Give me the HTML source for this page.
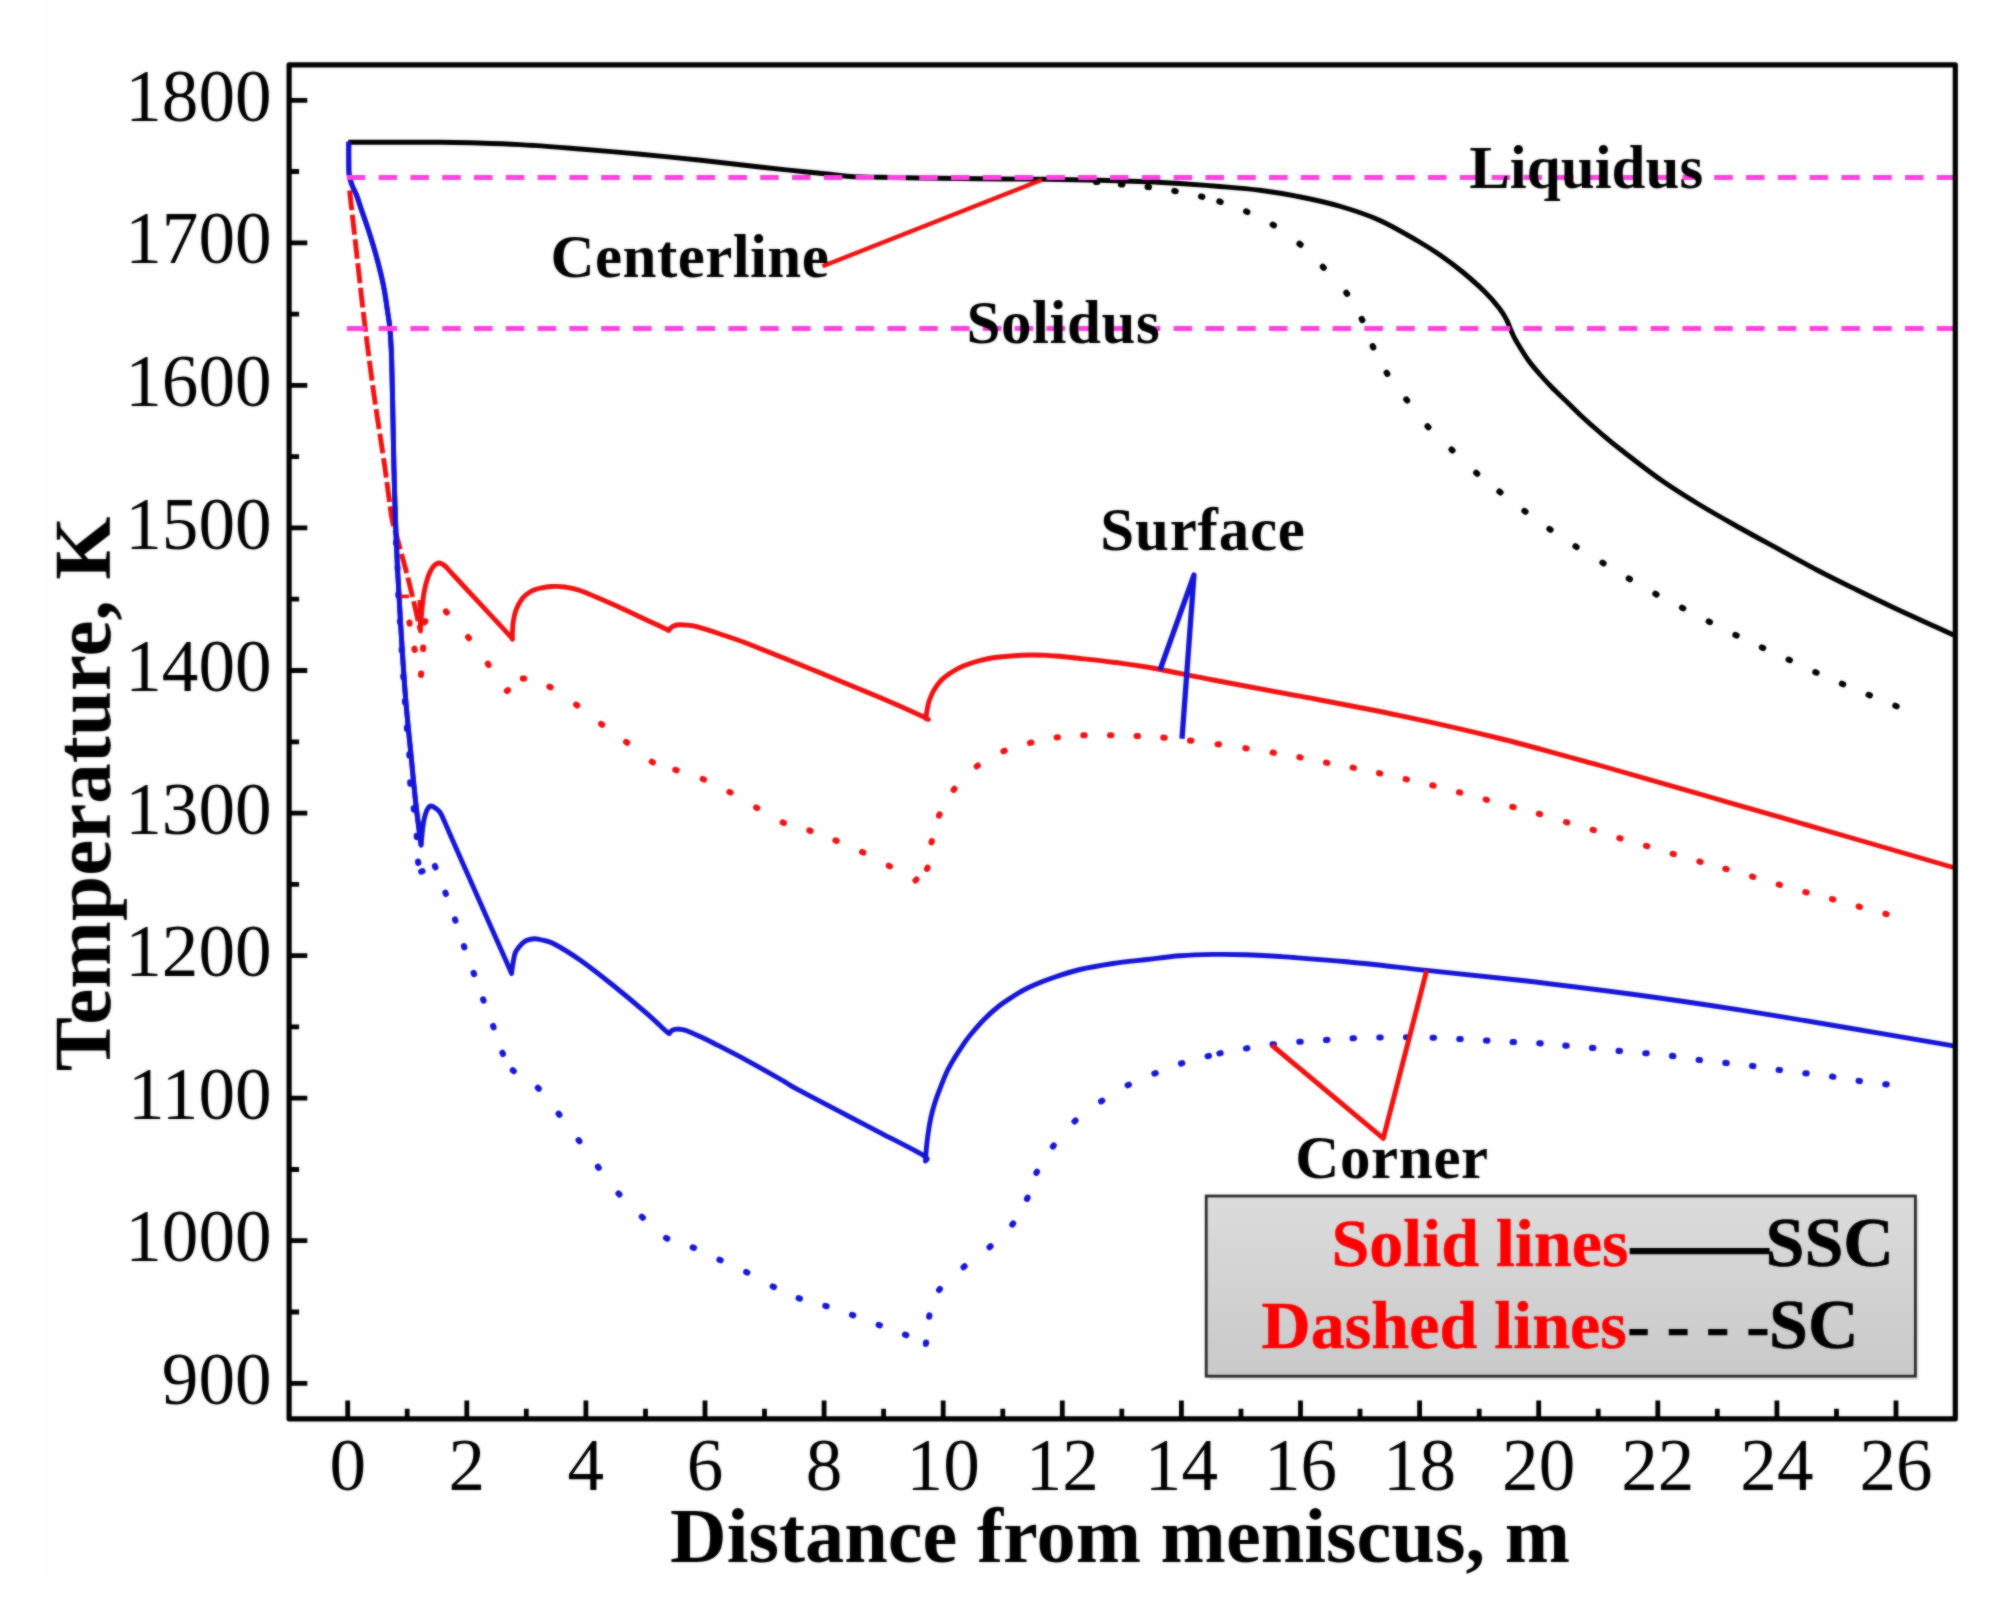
<!DOCTYPE html>
<html lang="en"><head><meta charset="utf-8"><title>Temperature vs distance from meniscus</title>
<style>
html,body{margin:0;padding:0;background:#fff;}
body{width:1990px;height:1619px;overflow:hidden;}
svg{display:block;}
text{font-family:"Liberation Serif",serif;}
.tk{font-size:75px;fill:#000;}
.b{font-weight:bold;}
.lb{font-weight:bold;font-size:61px;fill:#000;}
.cv{fill:none;stroke-width:4.9;stroke-linejoin:round;stroke-linecap:butt;}
</style></head><body>
<svg width="1990" height="1619" viewBox="0 0 1990 1619">
<defs><linearGradient id="lg" x1="0" y1="0" x2="0" y2="1"><stop offset="0" stop-color="#dcdcdc"/><stop offset="1" stop-color="#c9c9c9"/></linearGradient>
<filter id="bl" x="-2%" y="-2%" width="104%" height="104%" color-interpolation-filters="sRGB"><feGaussianBlur stdDeviation="0.9" result="b"/><feComposite in="SourceGraphic" in2="b" operator="arithmetic" k1="0" k2="0.45" k3="0.55" k4="0"/></filter>
</defs>
<rect width="1990" height="1619" fill="#fff"/>
<rect x="42" y="0" width="1948" height="1578" fill="#fefefe"/>
<g filter="url(#bl)">
<path d="M1096.0 181.9l1.39 0.14M1121.0 184.4l1.39 0.14M1147.6 186.9l1.39 0.17M1174.3 190.9l1.38 0.25M1201.0 196.5l1.36 0.32M1219.3 201.5l1.33 0.44M1246.1 211.4l1.28 0.56M1272.7 224.6l1.19 0.73M1299.5 243.8l1.07 0.90M1322.8 266.8l0.97 1.01M1346.3 292.7l0.83 1.12M1361.7 318.9l0.62 1.26M1372.7 346.1l0.59 1.27M1386.6 372.7l0.75 1.18M1406.3 399.4l0.85 1.11M1427.5 426.2l0.94 1.04M1451.5 449.5l1.01 0.97M1476.2 472.8l1.05 0.92M1499.4 491.6l1.10 0.87M1524.4 510.9l1.12 0.84M1549.4 528.9l1.15 0.80M1575.4 546.3l1.18 0.75M1602.4 562.6l1.20 0.72M1628.7 578.5l1.21 0.71M1655.3 593.8l1.23 0.67M1682.0 607.7l1.24 0.64M1708.7 621.5l1.25 0.64M1735.4 634.9l1.26 0.61M1761.9 647.4l1.27 0.59M1788.6 659.6l1.27 0.59M1815.3 672.1l1.28 0.58M1841.9 683.7l1.29 0.55M1868.6 694.8l1.29 0.53M1895.3 705.7l1.30 0.53" stroke="#000" stroke-width="6.1" stroke-linecap="round" fill="none"/>
<path d="M409.4 622.4l0.27 1.37M414.4 648.6l0.31 1.37M421.0 674.9l0.11 -1.40M423.1 649.0l0.10 -1.40M424.6 622.3l0.75 -1.18M445.9 611.4l0.91 1.06M468.1 637.1l0.87 1.10M487.8 663.8l0.83 1.13M506.9 691.0l1.12 -0.84M522.8 678.6l1.40 -0.12M549.4 686.7l1.25 0.62M576.1 704.6l1.14 0.82M601.1 723.9l1.12 0.84M626.1 741.9l1.12 0.84M651.7 761.7l1.22 0.69M675.3 769.8l1.33 0.45M702.7 779.0l1.29 0.53M729.4 792.0l1.24 0.66M756.1 807.4l1.22 0.69M782.7 822.4l1.29 0.55M809.3 830.5l1.32 0.45M835.4 840.4l1.30 0.53M862.1 852.0l1.26 0.60M888.7 865.7l1.24 0.65M915.5 880.5l0.97 -1.01M927.0 868.9l0.53 -1.30M931.5 842.4l0.31 -1.37M939.0 815.6l0.55 -1.29M953.6 789.9l0.86 -1.11M976.7 766.4l1.11 -0.85M1003.4 751.3l1.28 -0.56M1030.0 742.9l1.36 -0.35M1056.6 737.4l1.39 -0.19M1083.3 735.3l1.40 -0.05M1110.0 735.3l1.40 0.02M1136.6 736.0l1.40 0.06M1163.3 737.6l1.39 0.12M1190.0 740.6l1.39 0.17M1217.6 744.2l1.39 0.19M1245.3 748.2l1.38 0.21M1272.6 752.6l1.38 0.23M1299.3 757.2l1.38 0.26M1326.0 762.6l1.37 0.27M1352.6 767.6l1.37 0.27M1379.0 773.2l1.37 0.30M1405.6 779.1l1.36 0.31M1432.3 785.3l1.36 0.34M1459.0 792.3l1.35 0.36M1485.6 799.5l1.35 0.37M1512.3 806.8l1.35 0.36M1538.8 813.8l1.35 0.38M1566.0 822.1l1.34 0.40M1592.6 829.8l1.34 0.40M1619.3 838.1l1.34 0.40M1646.0 845.8l1.34 0.40M1672.6 853.8l1.34 0.40M1699.3 861.5l1.35 0.38M1725.3 868.8l1.35 0.38M1752.0 876.5l1.34 0.40M1778.6 884.5l1.34 0.39M1805.3 892.1l1.35 0.37M1832.0 899.1l1.35 0.37M1858.6 906.5l1.35 0.37M1885.3 913.8l1.35 0.37" stroke="#f01010" stroke-width="6.1" stroke-linecap="round" fill="none"/>
<path d="M396.0 542.3l0.08 1.40M397.5 567.3l0.06 1.40M398.3 594.3l0.07 1.40M400.0 621.0l0.09 1.40M401.7 649.3l0.08 1.40M403.3 676.0l0.09 1.40M404.9 701.0l0.10 1.40M406.9 727.6l0.11 1.40M409.3 754.3l0.08 1.40M410.2 782.3l0.12 1.40M413.7 808.2l0.17 1.39M416.7 835.7l0.11 1.40M418.1 861.6l0.20 1.39M421.2 871.7l1.32 -0.48M434.9 866.0l0.51 1.30M445.4 892.7l0.49 1.31M455.0 919.4l0.46 1.32M463.9 946.1l0.46 1.32M473.6 972.8l0.48 1.32M483.1 999.3l0.48 1.31M493.1 1026.0l0.48 1.32M502.4 1052.7l0.58 1.27M512.8 1070.2l1.00 0.98M537.8 1087.8l1.01 0.97M558.6 1113.7l0.86 1.11M578.6 1140.1l0.83 1.12M597.9 1166.7l0.84 1.12M618.5 1193.5l0.92 1.05M641.8 1216.8l1.03 0.95M666.1 1237.9l1.20 0.72M692.7 1247.4l1.30 0.53M719.4 1259.7l1.27 0.59M746.1 1272.0l1.25 0.63M772.7 1286.4l1.26 0.62M798.6 1298.1l1.31 0.48M825.3 1305.8l1.34 0.42M852.0 1314.8l1.32 0.47M878.6 1324.8l1.31 0.49M905.0 1334.7l1.30 0.51M925.9 1344.0l0.17 -1.39M929.1 1316.7l0.34 -1.36M939.1 1290.1l0.81 -1.14M963.5 1267.2l1.07 -0.91M989.5 1247.2l1.05 -0.92M1012.3 1224.6l0.85 -1.11M1027.0 1198.9l0.59 -1.27M1036.4 1172.9l0.62 -1.25M1052.9 1146.6l0.84 -1.12M1074.5 1121.5l1.03 -0.95M1101.1 1101.4l1.16 -0.78M1127.7 1085.3l1.24 -0.65M1154.4 1073.6l1.30 -0.53M1181.0 1063.5l1.33 -0.43M1207.6 1056.2l1.35 -0.35M1219.3 1053.4l1.37 -0.28M1246.0 1048.4l1.38 -0.23M1272.6 1044.4l1.39 -0.17M1299.3 1041.8l1.40 -0.11M1326.0 1040.0l1.40 -0.09M1352.6 1038.3l1.40 -0.07M1379.3 1037.5l1.40 -0.03M1406.0 1037.3l1.40 0.01M1432.6 1037.7l1.40 0.04M1459.3 1039.0l1.40 0.07M1486.0 1040.5l1.40 0.08M1512.6 1042.0l1.40 0.07M1539.3 1043.3l1.40 0.10M1565.3 1045.6l1.39 0.12M1592.0 1047.9l1.39 0.14M1618.6 1050.9l1.39 0.14M1645.3 1053.2l1.39 0.13M1672.0 1055.9l1.39 0.17M1698.6 1059.9l1.39 0.18M1725.3 1062.9l1.39 0.16M1752.0 1065.9l1.39 0.18M1778.6 1069.9l1.39 0.19M1805.3 1073.2l1.39 0.17M1832.0 1076.6l1.39 0.20M1858.6 1080.9l1.39 0.20M1885.3 1084.2l1.39 0.17" stroke="#1414d6" stroke-width="6.1" stroke-linecap="round" fill="none"/>
<path class="cv" stroke="#f01010" stroke-width="4.8" d="M420.0 600.0C420.1 605.2 420.4 625.8 420.5 631.0C420.7 628.3 420.9 621.4 421.5 615.0C422.1 608.6 422.9 598.9 424.0 592.6C425.1 586.3 426.5 581.3 428.0 577.0C429.5 572.7 431.2 569.3 433.0 567.0C434.8 564.7 437.0 563.2 439.0 563.0C441.0 562.8 442.8 564.2 445.0 566.0C447.2 567.8 446.2 567.2 452.0 573.5C457.8 579.8 472.0 595.1 480.0 603.7C488.0 612.3 494.8 619.6 500.0 625.2C505.2 630.9 509.4 635.3 511.5 637.6C513.5 639.9 512.2 638.9 512.3 639.2C512.4 636.5 512.5 627.9 513.1 623.0C513.7 618.1 514.4 614.2 516.0 610.0C517.6 605.8 520.4 601.0 522.7 598.0C525.0 595.0 527.3 593.6 530.0 592.0C532.7 590.4 535.3 589.4 538.8 588.5C542.3 587.6 546.6 586.8 551.0 586.5C555.4 586.2 560.2 586.3 565.0 587.0C569.8 587.7 572.0 587.6 580.0 590.5C588.0 593.4 602.2 599.6 613.3 604.5C624.4 609.4 637.8 615.9 646.7 620.0C655.6 624.1 663.1 627.5 666.7 629.3C670.3 631.0 668.0 630.3 668.3 630.5C668.9 629.9 670.6 627.9 672.0 627.0C673.4 626.1 674.5 625.3 676.7 625.0C678.9 624.7 681.7 624.7 685.0 625.0C688.3 625.3 690.9 625.2 696.7 626.7C702.5 628.2 711.7 631.2 720.0 634.0C728.3 636.8 731.2 637.3 746.7 643.3C762.2 649.3 791.1 661.0 813.3 670.0C835.5 679.0 861.4 689.7 880.0 697.6C898.6 705.5 917.4 714.0 925.0 717.5C932.6 721.0 925.6 718.3 925.7 718.5C926.0 716.8 926.9 711.1 927.5 708.0C928.1 704.9 928.4 703.0 929.5 700.0C930.6 697.0 932.0 693.3 934.0 690.0C936.0 686.7 938.5 683.0 941.5 680.0C944.5 677.0 948.4 674.3 952.0 672.0C955.6 669.7 958.6 667.9 963.3 666.0C968.0 664.1 974.4 662.0 980.0 660.5C985.6 659.0 988.4 658.2 996.7 657.3C1005.0 656.4 1020.3 655.2 1030.0 655.0C1039.7 654.8 1046.7 655.4 1055.0 656.0C1063.3 656.6 1070.0 657.4 1080.0 658.5C1090.0 659.6 1103.9 661.1 1115.0 662.5C1126.1 663.9 1130.3 664.1 1146.7 667.0C1163.1 669.9 1187.8 675.1 1213.3 680.0C1238.8 684.9 1268.9 690.3 1300.0 696.2C1331.1 702.1 1366.7 708.6 1400.0 715.6C1433.3 722.6 1466.7 730.2 1500.0 738.5C1533.3 746.8 1570.0 757.2 1600.0 765.5C1630.0 773.8 1658.3 782.1 1680.0 788.3C1701.7 794.5 1713.3 798.0 1730.0 802.8C1746.7 807.6 1758.8 811.1 1780.0 817.2C1801.2 823.3 1828.1 831.1 1857.0 839.5C1885.9 847.9 1937.2 862.8 1953.3 867.5"/>
<path class="cv" stroke="#f01010" stroke-width="5.6" stroke-dasharray="20 4.5" d="M349.6 190.4C350.7 200.3 353.9 228.7 356.3 250.0C358.7 271.3 361.1 294.3 364.0 318.0C366.9 341.7 370.2 367.3 373.6 392.0C377.1 416.7 381.7 445.2 384.7 466.0C387.7 486.8 389.7 505.3 391.7 517.0C393.7 528.7 394.4 527.8 396.7 536.4C399.0 545.0 402.7 557.8 405.5 568.5C408.3 579.2 411.1 590.4 413.5 600.6C415.9 610.8 418.9 624.7 420.0 629.5"/>
<path class="cv" stroke="#000" stroke-width="4.4" d="M348.3 142.2C356.9 142.2 384.7 142.2 400.0 142.2C415.3 142.2 428.3 142.1 440.0 142.2C451.7 142.3 456.7 142.4 470.0 142.8C483.3 143.2 501.7 143.6 520.0 144.6C538.3 145.6 559.8 147.4 580.0 149.0C600.2 150.6 620.8 152.4 641.0 154.3C661.2 156.2 680.8 158.2 701.0 160.3C721.2 162.5 745.2 165.3 762.0 167.2C778.8 169.1 790.7 170.3 802.0 171.5C813.3 172.7 822.0 173.5 830.0 174.3C838.0 175.1 841.7 176.0 850.0 176.5C858.3 177.0 865.0 177.0 880.0 177.3C895.0 177.6 920.0 178.0 940.0 178.3C960.0 178.6 982.2 178.8 1000.0 179.0C1017.8 179.2 1030.0 179.1 1046.7 179.3C1063.4 179.5 1083.3 179.9 1100.0 180.3C1116.7 180.7 1133.4 181.2 1146.7 181.7C1160.0 182.2 1167.8 182.7 1180.0 183.5C1192.2 184.3 1206.7 185.4 1220.0 186.5C1233.3 187.6 1246.6 188.6 1260.0 190.3C1273.4 192.1 1287.1 194.3 1300.6 197.0C1314.1 199.7 1327.6 202.6 1340.8 206.5C1354.0 210.4 1367.3 214.7 1380.0 220.4C1392.7 226.1 1407.0 234.7 1417.0 240.5C1427.0 246.3 1432.5 249.8 1440.0 255.0C1447.5 260.2 1454.6 265.4 1462.0 271.5C1469.4 277.6 1478.3 285.4 1484.5 291.5C1490.7 297.6 1495.6 303.4 1499.3 308.2C1503.0 312.9 1504.9 316.6 1506.7 320.0C1508.5 323.4 1509.0 325.6 1510.2 328.4C1511.4 331.2 1512.7 334.4 1514.0 337.0C1515.3 339.6 1515.4 339.9 1517.8 343.8C1520.2 347.7 1524.8 355.4 1528.5 360.5C1532.2 365.6 1536.1 370.0 1540.0 374.5C1543.9 379.0 1547.8 383.2 1552.0 387.5C1556.2 391.8 1560.3 395.5 1565.0 400.0C1569.7 404.5 1574.2 409.3 1580.0 414.7C1585.8 420.1 1593.3 426.8 1600.0 432.5C1606.7 438.2 1609.8 441.1 1620.0 449.0C1630.2 456.9 1647.7 470.7 1661.0 480.0C1674.3 489.3 1686.8 497.0 1700.0 505.0C1713.2 513.0 1726.7 520.5 1740.0 528.0C1753.3 535.5 1767.0 542.8 1780.0 549.9C1793.0 557.0 1805.2 563.8 1818.0 570.5C1830.8 577.2 1844.0 583.6 1857.0 590.0C1870.0 596.4 1883.0 602.6 1896.0 608.7C1909.0 614.8 1925.4 622.1 1935.0 626.5C1944.6 630.9 1950.4 633.6 1953.5 635.0"/>
<path class="cv" stroke="#1414d6" d="M348.8 141.7C348.8 144.8 348.7 154.4 348.8 160.0C348.9 165.6 348.7 170.8 349.2 175.0C349.7 179.2 350.8 181.7 352.0 185.0C353.2 188.3 355.0 191.2 356.5 195.0C358.0 198.8 358.8 202.0 360.8 207.9C362.8 213.8 365.8 222.0 368.5 230.3C371.2 238.7 374.3 248.8 376.8 258.0C379.3 267.2 381.7 276.8 383.5 285.7C385.3 294.6 386.6 304.8 387.6 311.7C388.7 318.6 389.2 321.0 389.8 327.4C390.4 333.8 390.9 342.3 391.3 350.0C391.7 357.7 391.7 362.0 392.0 373.7C392.3 385.4 392.7 404.6 393.0 420.0C393.3 435.4 393.5 449.6 393.9 466.3C394.3 483.0 394.9 503.0 395.5 520.0C396.1 537.0 396.6 550.2 397.5 568.5C398.4 586.8 399.7 608.6 401.0 630.0C402.3 651.4 403.8 675.3 405.5 697.0C407.2 718.7 409.8 742.0 411.5 760.0C413.2 778.0 414.4 790.8 416.0 805.0C417.6 819.2 420.2 838.5 421.1 845.2C421.3 842.7 422.0 834.3 422.5 830.0C423.0 825.7 423.4 822.6 424.1 819.3C424.9 816.0 425.9 812.2 427.0 810.0C428.1 807.8 429.3 806.2 430.8 806.0C432.3 805.8 434.3 807.2 436.0 808.5C437.7 809.8 438.7 809.7 441.0 814.0C443.3 818.3 445.2 823.4 450.0 834.3C454.8 845.2 463.3 864.4 470.0 879.5C476.7 894.6 484.2 911.5 490.0 924.7C495.8 937.9 501.4 950.5 505.0 958.6C508.6 966.7 510.5 971.0 511.6 973.5C511.8 972.1 512.1 968.3 512.7 965.0C513.3 961.7 514.0 956.5 515.0 953.5C516.0 950.5 517.5 948.9 519.0 947.0C520.5 945.1 522.3 943.2 524.0 942.0C525.7 940.8 527.2 940.2 529.0 939.7C530.8 939.2 532.8 938.7 535.0 938.7C537.2 938.8 539.0 939.2 542.0 940.0C545.0 940.8 547.0 940.2 553.3 943.5C559.6 946.8 570.0 953.0 580.0 960.0C590.0 967.0 602.2 976.6 613.3 985.5C624.4 994.4 637.8 1005.6 646.7 1013.3C655.6 1021.0 662.9 1028.4 666.7 1031.7C670.5 1035.0 668.9 1033.0 669.3 1033.3C669.8 1032.8 671.0 1031.2 672.0 1030.5C673.0 1029.8 673.7 1029.5 675.0 1029.3C676.3 1029.1 678.0 1029.1 680.0 1029.3C682.0 1029.5 683.4 1029.5 686.7 1030.7C690.0 1031.9 695.6 1034.5 700.0 1036.5C704.4 1038.5 705.5 1039.0 713.3 1043.0C721.1 1047.0 735.6 1054.3 746.7 1060.3C757.8 1066.3 771.5 1074.1 780.0 1079.0C788.5 1083.9 786.9 1083.7 798.0 1089.7C809.1 1095.7 833.0 1108.1 846.7 1115.2C860.4 1122.3 867.2 1125.9 880.0 1132.6C892.8 1139.3 915.7 1150.6 923.3 1155.3C930.9 1160.0 925.1 1160.0 925.5 1161.0C925.7 1158.7 926.0 1152.0 926.5 1147.0C927.0 1142.0 927.8 1136.0 928.5 1131.0C929.2 1126.0 930.0 1121.5 931.0 1117.0C932.0 1112.5 933.0 1108.8 934.5 1104.0C936.0 1099.2 937.9 1093.9 940.0 1088.5C942.1 1083.1 944.6 1076.6 947.0 1071.5C949.4 1066.4 952.0 1062.2 954.5 1058.0C957.0 1053.8 959.5 1050.2 962.0 1046.5C964.5 1042.8 965.8 1040.5 969.5 1036.0C973.2 1031.5 979.1 1024.5 984.0 1019.5C988.9 1014.5 994.2 1009.8 999.0 1006.0C1003.8 1002.2 1008.1 999.6 1013.0 996.5C1017.9 993.4 1021.6 990.8 1028.6 987.5C1035.6 984.2 1046.4 980.0 1055.0 977.0C1063.6 974.0 1070.3 971.8 1080.0 969.5C1089.7 967.2 1101.9 965.2 1113.0 963.5C1124.1 961.8 1135.5 960.8 1146.7 959.5C1157.9 958.2 1168.9 956.6 1180.0 955.8C1191.1 954.9 1202.3 954.6 1213.3 954.4C1224.3 954.2 1234.9 954.4 1246.0 954.8C1257.1 955.1 1263.2 955.3 1280.0 956.5C1296.8 957.7 1322.2 959.5 1346.7 961.8C1371.2 964.1 1397.8 967.3 1426.7 970.4C1455.6 973.5 1486.0 976.4 1520.0 980.3C1554.0 984.2 1593.7 989.0 1630.5 994.0C1667.3 999.0 1704.2 1004.4 1741.0 1010.1C1777.8 1015.9 1816.2 1022.5 1851.6 1028.5C1887.0 1034.5 1936.5 1043.0 1953.5 1045.9"/>
<path class="cv" stroke="#1414d6" stroke-width="6.2" stroke-linecap="round" d="M348.8 141.7C348.8 144.8 348.7 154.4 348.8 160.0C348.9 165.6 348.7 170.8 349.2 175.0C349.7 179.2 350.8 181.7 352.0 185.0C353.2 188.3 355.0 191.2 356.5 195.0C358.0 198.8 358.8 202.0 360.8 207.9C362.8 213.8 365.8 222.0 368.5 230.3C371.2 238.7 374.3 248.8 376.8 258.0C379.3 267.2 381.7 276.8 383.5 285.7C385.3 294.6 386.6 304.8 387.6 311.7C388.7 318.6 389.2 321.0 389.8 327.4C390.4 333.8 390.9 342.3 391.3 350.0C391.7 357.7 391.7 362.0 392.0 373.7C392.3 385.4 392.7 404.6 393.0 420.0C393.3 435.4 393.5 449.6 393.9 466.3C394.3 483.0 394.9 503.0 395.5 520.0C396.1 537.0 396.6 550.2 397.5 568.5C398.4 586.8 399.7 608.6 401.0 630.0C402.3 651.4 403.8 675.3 405.5 697.0C407.2 718.7 409.8 742.0 411.5 760.0C413.2 778.0 414.4 790.8 416.0 805.0C417.6 819.2 420.2 838.5 421.1 845.2"/>
<path d="M346.8 177.5 H1953.0" stroke="#ff40e0" stroke-width="5" stroke-dasharray="18.6 13.2" fill="none"/>
<path d="M346.8 328.5 H1953.0" stroke="#ff40e0" stroke-width="5" stroke-dasharray="18.6 13.2" fill="none"/>
<path d="M400.6 596.4H409" stroke="#f01010" stroke-width="3.6" fill="none"/>
<path d="M822.5 266.3L1042.0 179.8" fill="none" stroke="#f01010" stroke-width="4.4" stroke-linejoin="round"/>
<path d="M1160.0 670.0L1194.0 575.0L1182.0 738.7" fill="none" stroke="#1414d6" stroke-width="5.3" stroke-linejoin="round"/>
<path d="M1271.7 1045.0L1383.3 1138.3L1426.7 970.4" fill="none" stroke="#f01010" stroke-width="5" stroke-linejoin="round"/>
<rect x="289.1" y="64.9" width="1666.2" height="1353.9" fill="none" stroke="#000" stroke-width="5.2" stroke-linejoin="round"/>
<path d="M347.7 1418.8 V1400.6M407.2 1418.8 V1408.8M466.8 1418.8 V1400.6M526.3 1418.8 V1408.8M585.9 1418.8 V1400.6M645.5 1418.8 V1408.8M705.0 1418.8 V1400.6M764.5 1418.8 V1408.8M824.1 1418.8 V1400.6M883.6 1418.8 V1408.8M943.2 1418.8 V1400.6M1002.8 1418.8 V1408.8M1062.3 1418.8 V1400.6M1121.8 1418.8 V1408.8M1181.4 1418.8 V1400.6M1241.0 1418.8 V1408.8M1300.5 1418.8 V1400.6M1360.0 1418.8 V1408.8M1419.6 1418.8 V1400.6M1479.2 1418.8 V1408.8M1538.7 1418.8 V1400.6M1598.2 1418.8 V1408.8M1657.8 1418.8 V1400.6M1717.3 1418.8 V1408.8M1776.9 1418.8 V1400.6M1836.5 1418.8 V1408.8M1896.0 1418.8 V1400.6M289.1 1383.3 H307.3M289.1 1312.0 H299.1M289.1 1240.7 H307.3M289.1 1169.5 H299.1M289.1 1098.2 H307.3M289.1 1026.9 H299.1M289.1 955.6 H307.3M289.1 884.3 H299.1M289.1 813.1 H307.3M289.1 741.8 H299.1M289.1 670.5 H307.3M289.1 599.2 H299.1M289.1 527.9 H307.3M289.1 456.7 H299.1M289.1 385.4 H307.3M289.1 314.1 H299.1M289.1 242.8 H307.3M289.1 171.5 H299.1M289.1 100.3 H307.3" stroke="#000" stroke-width="4.8" fill="none"/>
<text class="tk" transform="translate(347.7 1490.0) scale(0.976 1)" text-anchor="middle">0</text>
<text class="tk" transform="translate(466.8 1490.0) scale(0.976 1)" text-anchor="middle">2</text>
<text class="tk" transform="translate(585.9 1490.0) scale(0.976 1)" text-anchor="middle">4</text>
<text class="tk" transform="translate(705.0 1490.0) scale(0.976 1)" text-anchor="middle">6</text>
<text class="tk" transform="translate(824.1 1490.0) scale(0.976 1)" text-anchor="middle">8</text>
<text class="tk" transform="translate(943.2 1490.0) scale(0.976 1)" text-anchor="middle">10</text>
<text class="tk" transform="translate(1062.3 1490.0) scale(0.976 1)" text-anchor="middle">12</text>
<text class="tk" transform="translate(1181.4 1490.0) scale(0.976 1)" text-anchor="middle">14</text>
<text class="tk" transform="translate(1300.5 1490.0) scale(0.976 1)" text-anchor="middle">16</text>
<text class="tk" transform="translate(1419.6 1490.0) scale(0.976 1)" text-anchor="middle">18</text>
<text class="tk" transform="translate(1538.7 1490.0) scale(0.976 1)" text-anchor="middle">20</text>
<text class="tk" transform="translate(1657.8 1490.0) scale(0.976 1)" text-anchor="middle">22</text>
<text class="tk" transform="translate(1776.9 1490.0) scale(0.976 1)" text-anchor="middle">24</text>
<text class="tk" transform="translate(1896.0 1490.0) scale(0.976 1)" text-anchor="middle">26</text>
<text class="tk" transform="translate(271.6 1403.9) scale(0.976 1)" text-anchor="end">900</text>
<text class="tk" transform="translate(271.6 1261.3) scale(0.976 1)" text-anchor="end">1000</text>
<text class="tk" transform="translate(271.6 1118.8) scale(0.976 1)" text-anchor="end">1100</text>
<text class="tk" transform="translate(271.6 976.2) scale(0.976 1)" text-anchor="end">1200</text>
<text class="tk" transform="translate(271.6 833.7) scale(0.976 1)" text-anchor="end">1300</text>
<text class="tk" transform="translate(271.6 691.1) scale(0.976 1)" text-anchor="end">1400</text>
<text class="tk" transform="translate(271.6 548.5) scale(0.976 1)" text-anchor="end">1500</text>
<text class="tk" transform="translate(271.6 406.0) scale(0.976 1)" text-anchor="end">1600</text>
<text class="tk" transform="translate(271.6 263.4) scale(0.976 1)" text-anchor="end">1700</text>
<text class="tk" transform="translate(271.6 120.9) scale(0.976 1)" text-anchor="end">1800</text>
<text class="b" font-size="78.4" x="1120.0" y="1562.3" text-anchor="middle">Distance from meniscus, m</text>
<text class="b" font-size="81.2" transform="translate(109.8 794.0) rotate(-90)" text-anchor="middle">Temperature, K</text>
<text class="lb" x="550.6" y="276.8" letter-spacing="0.42">Centerline</text>
<text class="lb" x="1469.2" y="188.3" letter-spacing="0">Liquidus</text>
<text class="lb" x="966.5" y="343.3" letter-spacing="0.55">Solidus</text>
<text class="lb" x="1100.2" y="549.5" letter-spacing="0.8">Surface</text>
<text class="lb" x="1295.2" y="1177.5" letter-spacing="0.66">Corner</text>
<rect x="1209" y="1199" width="710" height="181" fill="#e4e4e4"/>
<rect x="1206.2" y="1196" width="709.2" height="180.2" fill="url(#lg)" stroke="#2a2a2a" stroke-width="2.8"/>
<text class="b" font-size="68.1" x="1331.4" y="1266.0" fill="#f00" stroke="#f00" stroke-width="0.5">Solid lines</text>
<text class="b" font-size="68.1" x="1261.6" y="1348.4" fill="#f00" stroke="#f00" stroke-width="0.5">Dashed lines</text>
<path d="M1629.7 1251.1 H1769.6" stroke="#000" stroke-width="6.4"/>
<path d="M1629.4 1332.2 H1647.7M1668.8 1332.2 H1687.6M1708.2 1332.2 H1727.3M1748.4 1332.2 H1767.5" stroke="#000" stroke-width="6.2" fill="none"/>
<text class="b" font-size="70" x="1765.5" y="1266.0" stroke="#000" stroke-width="0.6">SSC</text>
<text class="b" font-size="70" x="1769.0" y="1348.4" stroke="#000" stroke-width="0.6">SC</text>
</g>
</svg>
</body></html>
